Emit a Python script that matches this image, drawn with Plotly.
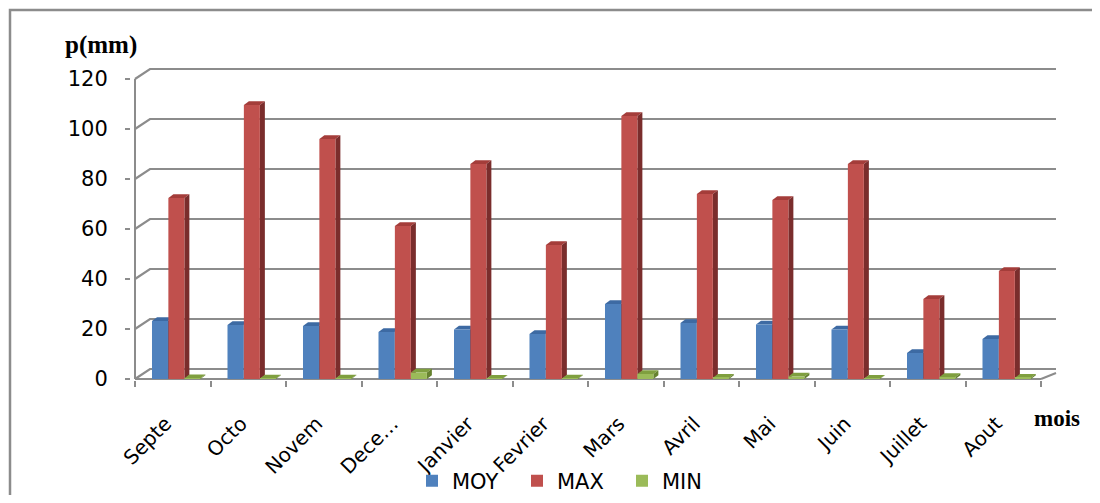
import plotly.graph_objects as go

# ---------------- data ----------------
months = ["Septe", "Octo", "Novem", "Dece\u2026", "Janvier", "Fevrier",
          "Mars", "Avril", "Mai", "Juin", "Juillet", "Aout"]
moy = [23.2, 21.6, 21.2, 18.8, 19.8, 18.0, 30.0, 22.4, 21.8, 19.8, 10.4, 16.0]
vmax = [72.4, 109.6, 96.0, 61.2, 86.0, 53.6, 105.2, 74.0, 71.6, 86.0, 32.0, 43.2]
vmin = [0.3, 0.2, 0.2, 2.6, 0.1, 0.2, 2.0, 0.5, 1.0, 0.1, 0.8, 0.5]
y_ticks = [0, 20, 40, 60, 80, 100, 120]
series_names = ["MOY", "MAX", "MIN"]

# ---------------- styling / geometry (screen pixels) ----------------
OFF = 8                       # default page (body) margin around the figure
W, H = 1100 - 2 * OFF, 503 - 2 * OFF
PL = 135          # pixel of the front y axis
PXU = 75.5        # pixels per category
PYU = 2.5         # pixels per mm
Y0PX = 379        # pixel of y = 0
L, R, T, B = 131, 1060, 64, 380
n = len(months)
xr = [-0.5 - (PL - L) / PXU, -0.5 + (R - PL) / PXU]
yr = [-(B - Y0PX) / PYU, (Y0PX - T) / PYU]

def px_x(p):
    return (p - L) / (R - L)

def px_y(p):
    return (B - p) / (B - T)

DX = 15 / PXU
DY = 10 / PYU
BW = 16 / PXU
BDX = 5 / PXU
BDY = 1.5
offsets = [-0.169, 0.048, 0.260]
label_shift = -7 / PXU
front = ["#4f81bd", "#c0504d", "#9bbb59"]
topc = ["#3d6aa3", "#a43d3a", "#7f9f3f"]
sidec = ["#2d5282", "#7a2d2c", "#66822f"]
grid_col = "#8c8c8c"

fig = go.Figure()
shapes = []
values = [moy, vmax, vmin]
idx = list(range(n))

for s, (name, vals) in enumerate(zip(series_names, values)):
    xs = [i + offsets[s] for i in idx]
    fig.add_trace(go.Bar(
        x=xs, y=vals, width=BW, name=name,
        marker=dict(color=front[s], line=dict(width=0)),
        hoverinfo="y+name"))
    for x, v in zip(xs, vals):
        x0, x1 = x - BW / 2, x + BW / 2
        shapes.append(dict(
            type="path", xref="x", yref="y", layer="between",
            path=f"M{x0},{v} L{x0 + BDX},{v + BDY} L{x1 + BDX},{v + BDY} L{x1},{v} Z",
            fillcolor=topc[s], line=dict(width=0)))
        shapes.append(dict(
            type="path", xref="x", yref="y", layer="between",
            path=f"M{x1},0 L{x1 + BDX},{BDY} L{x1 + BDX},{v + BDY} L{x1},{v} Z",
            fillcolor=sidec[s], line=dict(width=0)))

for t in y_ticks:
    shapes.append(dict(
        type="path", xref="x", yref="y", layer="below",
        path=f"M-0.5,{t} L{-0.5 + DX},{t + DY} L{n - 0.5 + DX},{t + DY}",
        line=dict(color=grid_col, width=2.2)))

shapes.append(dict(type="line", xref="x", yref="y", layer="below",
                   x0=-0.5, y0=0, x1=n - 0.5, y1=0,
                   line=dict(color=grid_col, width=2)))
shapes.append(dict(type="line", xref="x", yref="y", layer="below",
                   x0=n - 0.5, y0=0, x1=n - 0.5 + DX, y1=DY * 0.6,
                   line=dict(color=grid_col, width=2)))
shapes.append(dict(type="line", xref="x", yref="y", layer="below",
                   x0=-0.5, y0=0, x1=-0.5, y1=y_ticks[-1],
                   line=dict(color=grid_col, width=2)))
shapes.append(dict(type="rect", xref="paper", yref="paper",
                   x0=px_x(10), y0=px_y(540), x1=px_x(1140), y1=px_y(10),
                   line=dict(color="#8c8c8c", width=2.5), fillcolor="rgba(0,0,0,0)"))

fig.add_trace(go.Scatter(x=[None], y=[None], xaxis="x2", yaxis="y",
                         showlegend=False, hoverinfo="skip"))

fig.update_layout(
    width=W, height=H,
    margin=dict(l=L - OFF, r=(W + OFF) - R, t=T - OFF, b=(H + OFF) - B, pad=0,
                autoexpand=False),
    paper_bgcolor="white", plot_bgcolor="white",
    barmode="overlay",
    shapes=shapes,
    font=dict(family="DejaVu Sans", color="black"),
    xaxis=dict(range=xr, tickvals=[i + label_shift for i in idx], ticktext=months,
               tickangle=-45, ticks="", showgrid=False, zeroline=False,
               showline=False, automargin=False,
               tickfont=dict(size=20, family="DejaVu Sans", color="black"),
               ticklabelstandoff=27),
    xaxis2=dict(range=xr, overlaying="x", anchor="y", side="bottom",
                tickvals=[i - 0.5 for i in range(n + 1)],
                ticks="outside", ticklen=6, tickwidth=2, tickcolor=grid_col,
                showticklabels=False, showgrid=False, zeroline=False,
                showline=False, automargin=False),
    yaxis=dict(range=yr, tickvals=y_ticks, ticks="outside", ticklen=5,
               tickwidth=2, tickcolor=grid_col, showgrid=False,
               zeroline=False, showline=False, automargin=False,
               tickfont=dict(size=21, family="DejaVu Sans", color="black"),
               ticklabelstandoff=13),
    legend=dict(orientation="h", x=px_x(412), xanchor="left",
                y=px_y(481), yanchor="middle",
                font=dict(size=21, family="DejaVu Sans"),
                bgcolor="rgba(0,0,0,0)", itemwidth=30,
                entrywidth=60, entrywidthmode="pixels"),
    annotations=[
        dict(text="<b>p(mm)</b>", xref="paper", yref="paper",
             x=px_x(101), y=px_y(45), showarrow=False,
             xanchor="center", yanchor="middle",
             font=dict(family="Liberation Serif", size=25, color="black")),
        dict(text="<b>mois</b>", xref="paper", yref="paper",
             x=px_x(1057), y=px_y(418), showarrow=False,
             xanchor="center", yanchor="middle",
             font=dict(family="Liberation Serif", size=23, color="black")),
    ],
)

fig.write_html("out.html")
